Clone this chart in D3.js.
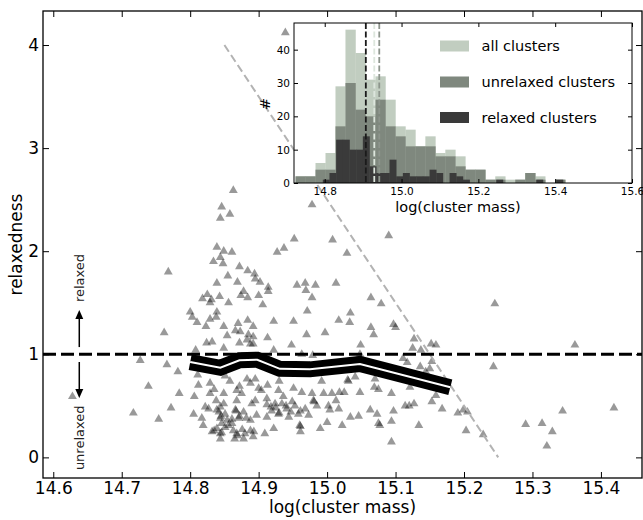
<!DOCTYPE html>
<html>
<head>
<meta charset="utf-8">
<script src="https://cdn.jsdelivr.net/npm/d3@7"></script>
<style>
  body { margin: 0; background: #fff; }
  svg { display: block; }
  text { font-family: "DejaVu Sans", sans-serif; }
</style>
</head>
<body>
<svg id="chart" width="643" height="520"></svg>
<script>
// ---- data ----
const massTicks = [14.6, 14.7, 14.8, 14.9, 15.0, 15.1, 15.2, 15.3, 15.4];
const relTicks = [0, 1, 2, 3, 4];

// individual clusters: [log(cluster mass), relaxedness]
const clusters = [
  [14.863,2.59],[14.846,2.43],[14.858,2.36],[14.844,2.32],[14.952,2.12],[14.839,2.04],[14.849,2.00],
  [14.861,1.99],[14.927,1.99],[14.937,2.03],[14.844,1.94],[14.834,1.90],[14.848,1.88],[14.768,1.80],
  [14.872,1.85],[14.884,1.81],[14.894,1.78],[14.855,1.76],[14.869,1.70],[14.895,1.73],[14.902,1.70],
  [14.839,1.69],[14.914,1.65],[14.914,1.61],[14.956,1.67],[14.878,1.61],[14.874,1.57],[14.884,1.55],
  [14.900,1.57],[14.843,1.56],[14.825,1.58],[14.818,1.54],[14.831,1.53],[14.829,1.50],[14.856,1.50],
  [14.906,1.48],[14.800,1.41],[14.839,1.41],[14.939,4.12],
  [14.978,2.45],[15.008,2.11],[15.090,2.15],[15.029,1.98],[14.968,1.69],[14.969,1.62],[14.983,1.67],
  [15.013,1.69],[14.978,1.55],[15.064,1.55],[15.079,1.49],[14.971,1.42],[15.034,1.40],
  [15.245,1.49],[15.097,1.29],[15.100,1.26],[15.127,1.15],[15.125,1.06],[15.137,1.04],[15.152,1.10],
  [15.159,1.09],[15.111,0.96],[15.117,0.92],[15.153,0.93],[15.150,0.86],[15.144,0.83],[15.243,0.88],
  [15.362,1.09],[15.121,0.68],[15.094,0.62],[15.159,0.60],[15.153,0.54],[15.097,0.45],[15.114,0.50],
  [15.120,0.50],[15.127,0.52],[15.168,0.47],[15.191,0.43],[15.199,0.46],[15.205,0.44],[15.344,0.45],
  [15.419,0.48],[15.077,0.31],[15.094,0.35],[15.134,0.31],[15.203,0.26],[15.228,0.22],[15.290,0.32],
  [15.314,0.33],[15.329,0.25],[15.321,0.11],[15.094,0.15],
  [14.803,1.36],[14.810,1.31],[14.762,1.21],[14.727,0.94],[14.766,0.90],[14.782,0.83],[14.739,0.69],
  [14.784,0.62],[14.628,0.59],[14.772,0.48],[14.717,0.43],[14.754,0.37],[14.805,0.42],[14.808,1.04],
  [14.811,0.80],[14.812,0.70],[14.806,0.59],
  [14.823,1.27],[14.838,1.36],[14.829,1.34],[14.849,1.27],[14.870,1.30],[14.884,1.33],[14.892,1.27],
  [14.922,1.32],[14.951,1.32],[15.017,1.33],[15.033,1.31],[15.064,1.26],[15.068,1.19],
  [14.824,1.11],[14.832,1.12],[14.866,1.23],[14.873,1.22],[14.885,1.19],[14.892,1.17],[14.872,1.11],
  [14.883,1.14],[14.888,1.10],[14.892,1.10],[14.913,1.16],[14.948,1.09],[14.970,1.19],[14.997,1.21],
  [15.049,1.09],
  [14.851,0.79],[14.883,0.76],[14.895,0.76],[14.930,0.74],[14.992,0.74],[15.030,0.75],[15.041,0.78],
  [15.070,0.76],[15.092,0.81],
  [14.829,0.72],[14.835,0.66],[14.849,0.62],[14.868,0.65],[14.872,0.69],[14.900,0.67],[14.904,0.65],
  [14.913,0.70],[14.929,0.65],[14.936,0.59],[14.951,0.67],[14.963,0.63],[14.978,0.62],[14.995,0.62],
  [15.018,0.63],[15.025,0.63],[15.048,0.63],[15.069,0.68],[15.075,0.66],
  [14.817,0.38],[14.827,0.47],[14.838,0.55],[14.844,0.49],[14.849,0.52],[14.844,0.38],[14.851,0.42],
  [14.861,0.37],[14.866,0.46],[14.871,0.38],[14.878,0.44],[14.882,0.38],[14.890,0.52],[14.895,0.55],
  [14.912,0.51],[14.918,0.49],[14.924,0.52],[14.929,0.42],[14.934,0.52],[14.941,0.47],[14.949,0.54],
  [14.953,0.50],[14.961,0.45],[14.968,0.47],[14.973,0.41],[14.980,0.55],[14.985,0.50],[15.002,0.50],
  [15.004,0.46],[15.017,0.47],[15.034,0.39],[15.046,0.40],[15.073,0.42],[15.075,0.33],
  [14.832,0.25],[14.839,0.28],[14.844,0.23],[14.846,0.33],[14.863,0.26],[14.868,0.23],[14.865,0.18],
  [14.880,0.23],[14.888,0.26],[14.893,0.25],[14.861,0.33],[14.819,0.31],[14.961,0.30],[14.961,0.25],
  [14.990,0.28],[15.000,0.34],[15.022,0.31],
  [14.963,1.00],[14.979,0.99],[15.048,1.00],[15.007,0.62],[15.013,0.55],
  [14.854,1.18],[14.858,0.74],[14.888,0.72],[14.829,0.62],[14.868,0.55],[14.875,0.62],[14.912,0.57],
  [14.822,0.49],[14.839,0.46],[14.854,0.36],[14.888,0.36],[14.912,0.39],[14.944,0.39],[14.958,0.42],
  [14.851,0.29],[14.909,0.23],[14.922,0.28],[14.844,0.18],[14.878,0.18],[14.892,0.20],
  [14.849,1.06],[14.922,1.04],[15.136,0.88],[15.063,0.46],
  [14.845,0.40],[14.846,0.24],[14.867,0.45],[14.930,0.43],[14.981,0.54],[14.960,0.31],[14.835,0.26],
  [14.872,0.40],[14.925,0.48],[14.940,0.50],[14.897,0.41],[14.856,0.31],[14.842,0.44],[14.876,0.27],
  [14.919,0.45],[14.947,0.44],[15.031,0.74],[14.869,0.21]
];

// running relaxedness of the sample along mass
const bandMass = [14.800, 14.844, 14.872, 14.898, 14.931, 14.975, 15.048, 15.180];
const bandRel  = [0.925, 0.869, 0.942, 0.947, 0.859, 0.854, 0.906, 0.680];

// selection cut
const cutMass = [14.85, 15.25];
const cutRel = [4.0, 0.0];

// mass histograms (inset)
const histTicksX = [14.8, 15.0, 15.2, 15.4, 15.6];
const histTicksY = [0, 10, 20, 30, 40];
const allStart = 14.724, allWidth = 0.026;
const allCounts       = [2,2,6,9,29,46,39,31,32,25,17,16,11,14,9,10,8,4,4,1,2,1,1,3,2,0,1];
const unrelaxedCounts = [2,2,4,4,17,30,22,20,25,17,14,11,11,11,8,8,5,4,4,1,1,0,1,3,1,0,1];
const relStart = 14.795, relWidth = 0.01737;
const relaxedCounts   = [1,3,13,13,10,10,14,5,3,3,7,2,3,2,2,2,4,3,0,3,2,1,0,0,0,0,1,0,0,0,0,0,1,0,0,1];
const medianMass = [14.907, 14.929, 14.942];
const medianColors = ["#1a1a1a", "#dde6dd", "#8d958c"];
const legendLabels = ["all clusters", "unrelaxed clusters", "relaxed clusters"];
const histColors = ["#c1cdc0", "#7f887e", "#3a3a3a"];

// ---- main panel ----
const svg = d3.select("#chart");
const L = 43, R = 642, T = 11, B = 478;
const x = d3.scaleLinear().domain([14.585, 15.46]).range([L, R]);
const y = d3.scaleLinear().domain([-0.2, 4.33]).range([B, T]);

const main = svg.append("g");

// scatter
const tri = d3.symbol().type(d3.symbolTriangle).size(34);
main.append("g").selectAll("path").data(clusters).join("path")
  .attr("d", tri)
  .attr("transform", d => `translate(${x(d[0])},${y(d[1])})`)
  .attr("fill", "#000").attr("fill-opacity", 0.4);

// cut line
main.append("line")
  .attr("x1", x(cutMass[0])).attr("y1", y(cutRel[0]))
  .attr("x2", x(cutMass[1])).attr("y2", y(cutRel[1]))
  .attr("stroke", "#b3b3b3").attr("stroke-width", 2).attr("stroke-dasharray", "8,4");

// relaxed/unrelaxed boundary
main.append("line")
  .attr("x1", L).attr("x2", R).attr("y1", y(1)).attr("y2", y(1))
  .attr("stroke", "#000").attr("stroke-width", 3).attr("stroke-dasharray", "13,5");

// band
const bandLine = d3.line().x((d, i) => x(bandMass[i])).y((d, i) => y(bandRel[i]));
main.append("path").attr("d", bandLine(bandMass)).attr("fill", "none")
  .attr("stroke", "#000").attr("stroke-width", 16)
  .attr("stroke-linejoin", "miter").attr("stroke-linecap", "butt");
main.append("path").attr("d", bandLine(bandMass)).attr("fill", "none")
  .attr("stroke", "#fff").attr("stroke-width", 2)
  .attr("stroke-linejoin", "miter").attr("stroke-linecap", "butt");

// direction arrows
const ax = x(14.638);
function arrow(from, to) {
  const y0 = y(from), y1 = y(to), dir = Math.sign(y1 - y0);
  main.append("line").attr("x1", ax).attr("x2", ax).attr("y1", y0).attr("y2", y1 - dir * 8)
    .attr("stroke", "#000").attr("stroke-width", 1.5);
  main.append("path")
    .attr("d", `M${ax - 4},${y1 - dir * 9} L${ax},${y1} L${ax + 4},${y1 - dir * 9} Z`)
    .attr("fill", "#000");
}
arrow(1.07, 1.43);
arrow(0.925, 0.575);
main.append("text").attr("transform", `translate(${ax + 5},${y(1.74)}) rotate(-90)`)
  .attr("text-anchor", "middle").attr("font-size", 13).attr("fill", "#222").text("relaxed");
main.append("text").attr("transform", `translate(${ax + 5},${y(0.19)}) rotate(-90)`)
  .attr("text-anchor", "middle").attr("font-size", 13).attr("fill", "#222").text("unrelaxed");

// axes
function styleAxis(g, size) {
  g.select(".domain").remove();
  g.selectAll("line").attr("stroke", "#000").attr("stroke-width", 1);
  g.selectAll("text").attr("font-family", "DejaVu Sans, sans-serif").attr("font-size", size).attr("fill", "#000");
}
main.append("g").attr("transform", `translate(0,${B})`)
  .call(d3.axisBottom(x).tickValues(massTicks).tickFormat(d3.format(".1f")).tickSize(-6).tickPadding(4))
  .call(g => styleAxis(g, 17));
main.append("g").attr("transform", `translate(0,${T})`)
  .call(d3.axisTop(x).tickValues(massTicks).tickFormat("").tickSize(-6))
  .call(g => styleAxis(g, 17));
main.append("g").attr("transform", `translate(${L},0)`)
  .call(d3.axisLeft(y).tickValues(relTicks).tickFormat(d3.format("d")).tickSize(-6).tickPadding(4))
  .call(g => styleAxis(g, 17));
main.append("g").attr("transform", `translate(${R},0)`)
  .call(d3.axisRight(y).tickValues(relTicks).tickFormat("").tickSize(-6))
  .call(g => styleAxis(g, 17));
main.append("rect").attr("x", L).attr("y", T).attr("width", R - L).attr("height", B - T)
  .attr("fill", "none").attr("stroke", "#000").attr("stroke-width", 1.3);

main.append("text").attr("x", (L + R) / 2).attr("y", 513).attr("text-anchor", "middle")
  .attr("font-size", 17).text("log(cluster mass)");
main.append("text").attr("transform", `translate(22,${(T + B) / 2}) rotate(-90)`)
  .attr("text-anchor", "middle").attr("font-size", 17).text("relaxedness");

// ---- inset: mass histograms ----
const iL = 294, iR = 632, iT = 23, iB = 183;
const ix = d3.scaleLinear().domain([14.72, 15.6]).range([iL, iR]);
const iy = d3.scaleLinear().domain([0, 48]).range([iB, iT]);
const inset = svg.append("g");
inset.append("rect").attr("x", iL).attr("y", iT).attr("width", iR - iL).attr("height", iB - iT).attr("fill", "#fff");

function bars(counts, start, width, color) {
  inset.append("g").selectAll("rect").data(counts).join("rect")
    .attr("x", (d, i) => ix(start + i * width))
    .attr("width", (d, i) => ix(start + (i + 1) * width) - ix(start + i * width) + 0.3)
    .attr("y", d => iy(d))
    .attr("height", d => iy(0) - iy(d))
    .attr("fill", color);
}
bars(allCounts, allStart, allWidth, histColors[0]);
bars(unrelaxedCounts, allStart, allWidth, histColors[1]);
bars(relaxedCounts, relStart, relWidth, histColors[2]);

inset.append("g").selectAll("line").data(medianMass).join("line")
  .attr("x1", d => ix(d)).attr("x2", d => ix(d)).attr("y1", iT).attr("y2", iB)
  .attr("stroke", (d, i) => medianColors[i]).attr("stroke-width", 1.8).attr("stroke-dasharray", "6,2.5");

// legend
const legY = [46, 82, 117.5];
legendLabels.forEach((lab, i) => {
  inset.append("rect").attr("x", 440).attr("y", legY[i] - 5.5).attr("width", 29).attr("height", 11)
    .attr("fill", histColors[i]);
  inset.append("text").attr("x", 481.5).attr("y", legY[i] + 5).attr("font-size", 14.5).text(lab);
});

inset.append("g").attr("transform", `translate(0,${iB})`)
  .call(d3.axisBottom(ix).tickValues(histTicksX).tickFormat(d3.format(".1f")).tickSize(-4).tickPadding(5))
  .call(g => styleAxis(g, 10.5));
inset.append("g").attr("transform", `translate(0,${iT})`)
  .call(d3.axisTop(ix).tickValues(histTicksX).tickFormat("").tickSize(-4))
  .call(g => styleAxis(g, 10.5));
inset.append("g").attr("transform", `translate(${iL},0)`)
  .call(d3.axisLeft(iy).tickValues(histTicksY).tickFormat(d3.format("d")).tickSize(-4).tickPadding(4))
  .call(g => styleAxis(g, 10.5));
inset.append("g").attr("transform", `translate(${iR},0)`)
  .call(d3.axisRight(iy).tickValues(histTicksY).tickFormat("").tickSize(-4))
  .call(g => styleAxis(g, 10.5));
inset.append("rect").attr("x", iL).attr("y", iT).attr("width", iR - iL).attr("height", iB - iT)
  .attr("fill", "none").attr("stroke", "#000").attr("stroke-width", 1);

inset.append("text").attr("x", (iL + iR) / 2 - 5).attr("y", 212).attr("text-anchor", "middle")
  .attr("font-size", 14.5).text("log(cluster mass)");
inset.append("text").attr("transform", `translate(270,104) rotate(-90)`)
  .attr("text-anchor", "middle").attr("font-size", 14.5).text("#");
</script>
</body>
</html>
